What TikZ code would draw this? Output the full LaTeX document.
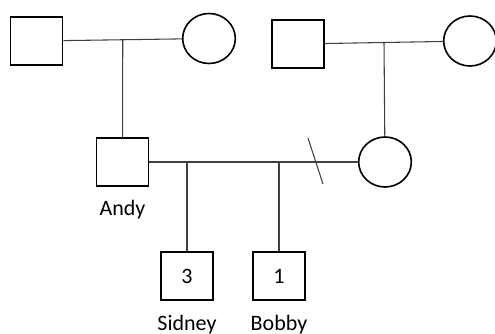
\documentclass[tikz,border=0pt]{standalone}
\usepackage{fontspec}
\setmainfont{Carlito}
\usetikzlibrary{positioning, shapes.geometric, calc}

\tikzset{
  male/.style = {rectangle, draw, line width=1.2pt, minimum width=39pt, minimum height=36pt, inner sep=0pt},
  female/.style = {ellipse, draw, line width=1.2pt, minimum width=39.5pt, minimum height=37.5pt, inner sep=0pt},
  lbl/.style = {inner sep=0pt},
  link/.style = {draw=black!75, line width=0.8pt}
}

\begin{document}
\begin{tikzpicture}[x=0.75pt, y=-0.75pt, font=\fontsize{16.5pt}{19pt}\selectfont]
        \useasboundingbox (0,0) rectangle (495,334);

        % grandparents
        \node[male] (gpa1) at (36.5, 41) {};
        \node[female] (gma1) at (209, 38.5) {};
        \node[male] (gpa2) at (298, 44) {};
        \node[female] (gma2) at (470, 41) {};

        % parents
        \node[male] (andy) at (122.5, 162) {};
        \node[female] (wife) at (385, 162) {};
        \node[lbl] (andyName) [below = 9.5pt of andy] {Andy};

        % children
        \node[male] (sidney) at (187, 276) {3};
        \node[male] (bobby) at (279, 276) {1};
        \node[lbl] (sidneyName) [below = 10.5pt of sidney] {Sidney};
        \node[lbl] (bobbyName) [below = 10.5pt of bobby] {Bobby};

        \coordinate (m1) at ($(gpa1)!0.5!(gma1)$);
        \coordinate (m2) at ($(gpa2)!0.5!(gma2)$);
        \coordinate (c1) at (sidney |- andy);
        \coordinate (c2) at (bobby |- andy);

        \draw[link] (gpa1) -- (gma1);
        \draw[link] (gpa2) -- (gma2);
        \draw[link] (m1) -- (andy);
        \draw[link] (m2) -- (wife);
        \draw[link] (andy) -- (wife);
        \draw[link] (c1) -- (sidney);
        \draw[link] (c2) -- (bobby);

        % divorce mark
        \draw[link] (308, 138) -- (323, 184);
      \end{tikzpicture}
\end{document}
